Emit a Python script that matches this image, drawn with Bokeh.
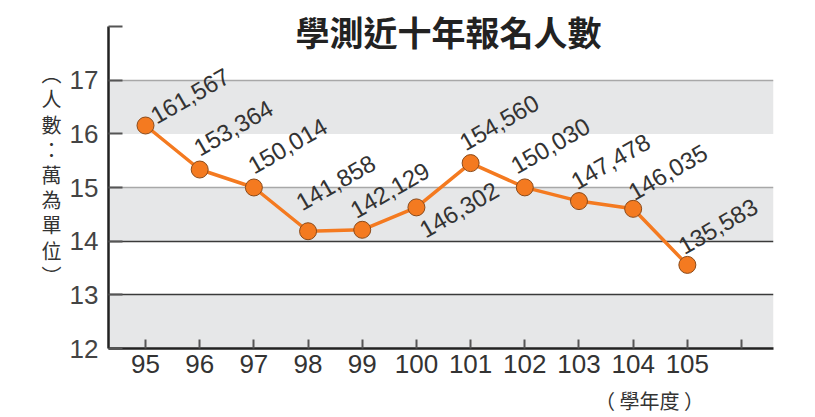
from bokeh.plotting import figure
from bokeh.models import ColumnDataSource, FixedTicker, Grid, Label, Range1d, LinearAxis
from bokeh.core.properties import value
from bokeh.embed import file_html
from bokeh.resources import INLINE

# ---- data ----
years = [95, 96, 97, 98, 99, 100, 101, 102, 103, 104, 105]
applicants = [161567, 153364, 150014, 141858, 142129, 146302,
              154560, 150030, 147478, 146035, 135583]
y_ticks = [12, 13, 14, 15, 16, 17]
x_ticks = [95, 96, 97, 98, 99, 100, 101, 102, 103, 104, 105]
title_text = "學測近十年報名人數"
y_title = "︵\n人\n數\n：\n萬\n為\n單\n位\n︶"
x_title = "（ 學年度 ）"

# layout-only pixel offsets (screen px) for the value labels
label_dx = [7, -4, -4, -10, -10, 5, -9, -12, -6, -3, -7]
label_dy = [-8, -20, -20, -27, -18, 24, -19, -20, -18, -15, -17]

wan = [v / 10000 for v in applicants]
texts = [f"{v:,}" for v in applicants]

ORANGE = "#f47a20"
NUM_FONT = "'Liberation Sans Narrow', 'Liberation Sans', sans-serif"

src = ColumnDataSource(dict(x=years, y=wan, t=texts, dx=label_dx, dy=label_dy))

p = figure(width=808, height=417, output_backend="svg", toolbar_location=None,
           x_range=Range1d(94.317, 106.59), y_range=Range1d(12, 18.487),
           min_border_left=108, min_border_right=35, min_border_top=0,
           min_border_bottom=68)
p.outline_line_color = None
p.background_fill_color = "white"

# alternating bands (grey: 12-13, 14-15, 16-17)
p.xgrid.visible = False
p.ygrid.ticker = FixedTicker(ticks=[12, 12.0001] + y_ticks[1:])
p.ygrid.grid_line_color = None
p.ygrid.band_fill_color = "#e6e7e8"
p.ygrid.band_fill_alpha = 1.0

g_dark = Grid(dimension=1, ticker=FixedTicker(ticks=[13, 14]),
              grid_line_color="#3a3a3a", grid_line_width=1.5)
g_light = Grid(dimension=1, ticker=FixedTicker(ticks=[15, 17]),
               grid_line_color="#a8a8a8", grid_line_width=1.5)
p.add_layout(g_dark)
p.add_layout(g_light)

# axes
p.yaxis.bounds = (12, 18)
p.yaxis.ticker = FixedTicker(ticks=y_ticks + [18])
p.yaxis.major_label_overrides = {18: ""}
p.yaxis.axis_line_width = 2.5
p.yaxis.axis_line_color = "#222222"
p.yaxis.major_tick_in = 14
p.yaxis.major_tick_out = 0
p.yaxis.major_tick_line_color = "#555555"
p.yaxis.major_tick_line_width = 2
p.yaxis.minor_tick_line_color = None
p.yaxis.major_label_text_font = NUM_FONT
p.yaxis.major_label_text_font_size = "26px"
p.yaxis.major_label_text_color = "#444444"
p.yaxis.major_label_standoff = 10
p.yaxis.axis_label = y_title
p.yaxis.axis_label_orientation = "horizontal"
p.yaxis.axis_label_standoff = 5
p.yaxis.axis_label_text_font = "Noto Sans CJK TC"
p.yaxis.axis_label_text_font_style = "normal"
p.yaxis.axis_label_text_font_size = "20px"
p.yaxis.axis_label_text_line_height = 0.87
p.yaxis.axis_label_text_color = "#333333"

p.xaxis.ticker = FixedTicker(ticks=x_ticks + [106])
p.xaxis.major_label_overrides = {106: ""}
p.xaxis.axis_line_width = 2.5
p.xaxis.axis_line_color = "#222222"
p.xaxis.major_tick_in = 9
p.xaxis.major_tick_out = 0
p.xaxis.major_tick_line_color = "#555555"
p.xaxis.major_tick_line_width = 2
p.xaxis.minor_tick_line_color = None
p.xaxis.major_label_text_font = NUM_FONT
p.xaxis.major_label_text_font_size = "26px"
p.xaxis.major_label_text_color = "#333333"
p.xaxis.major_label_standoff = 6

# second bottom axis carrying the unit title
unit_axis = LinearAxis(ticker=FixedTicker(ticks=[104.3]),
                       major_label_overrides={104.3: x_title},
                       axis_line_color=None, major_tick_line_color=None,
                       minor_tick_line_color=None, major_label_standoff=4,
                       major_label_text_font="Noto Sans CJK TC",
                       major_label_text_font_size="20px",
                       major_label_text_color="#333333")
p.add_layout(unit_axis, "below")

# series
p.line("x", "y", source=src, line_color=ORANGE, line_width=3.5)
p.scatter("x", "y", source=src, size=17, fill_color=ORANGE,
          line_color="#8a4a1a", line_width=1)

p.text("x", "y", text="t", source=src, angle=30, angle_units="deg",
       x_offset="dx", y_offset="dy", text_align="left",
       text_baseline="alphabetic",
       text_font=value("Liberation Sans"), text_font_size="24px",
       text_color="#333333")

# title
p.add_layout(Label(x=100.59, y=17.905, text=title_text, text_align="center",
                   text_baseline="middle", text_font="Noto Sans CJK TC",
                   text_font_style="bold", text_font_size="34px",
                   text_color="#222222"))

open("out.html", "w").write(file_html(p, INLINE))
